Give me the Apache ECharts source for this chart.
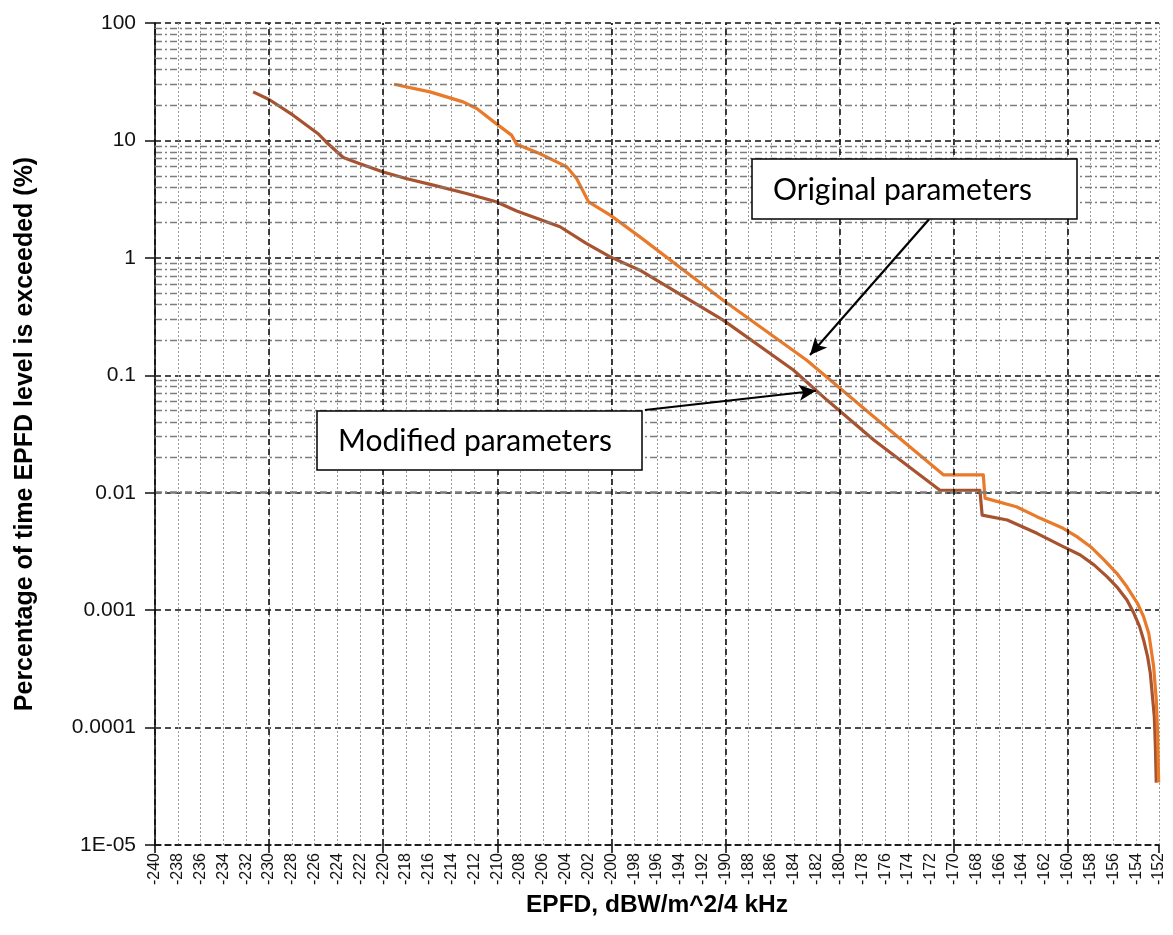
<!DOCTYPE html>
<html><head><meta charset="utf-8">
<script src="https://cdn.jsdelivr.net/npm/echarts@6/dist/echarts.min.js"></script>
<style>html,body{margin:0;padding:0;background:#fff}#c{width:1173px;height:935px}</style>
</head><body><div id="c"></div>
<script>
// ---- data ----
const epfdOriginal = [-219.05, -215.9, -213.0, -211.8, -210.1, -208.75, -208.3, -206.3, -203.9, -203.05, -202.0, -200.1, -197.5, -190.2, -182.9, -177.0, -170.9, -167.4, -167.25, -164.5, -162.7, -160.4, -159.2, -158.0, -156.86, -155.7, -154.81, -153.9, -153.35, -152.9, -152.68, -152.47, -152.24, -152.12, -152.03];
const pctOriginal  = [30.1, 25.9, 21.3, 18.7, 13.9, 11.1, 9.27, 7.74, 5.95, 4.74, 3.0, 2.31, 1.51, 0.436, 0.135, 0.0444, 0.0142, 0.0142, 0.0090, 0.0076, 0.00625, 0.00498, 0.00423, 0.00347, 0.00271, 0.00206, 0.00158, 0.00115, 0.00088, 0.000636, 0.000458, 0.00033, 0.000172, 0.0000895, 0.000034];
const epfdModified = [-231.4, -230.0, -227.9, -225.7, -225.0, -223.5, -222.1, -220.0, -218.0, -215.6, -212.7, -210.1, -208.3, -204.5, -202.2, -200.1, -197.5, -190.2, -184.05, -181.1, -177.0, -171.2, -167.7, -167.5, -165.3, -162.7, -160.4, -158.9, -157.7, -156.56, -155.7, -154.81, -154.2, -153.7, -153.35, -153.0, -152.76, -152.41, -152.32, -152.24];
const pctModified  = [25.9, 22.3, 16.4, 11.4, 9.7, 7.15, 6.36, 5.39, 4.74, 4.16, 3.53, 3.0, 2.51, 1.84, 1.33, 1.02, 0.785, 0.295, 0.111, 0.0615, 0.0281, 0.0105, 0.0105, 0.00645, 0.00586, 0.00451, 0.00347, 0.00295, 0.00243, 0.00193, 0.00158, 0.00122, 0.00094, 0.000724, 0.000557, 0.000402, 0.00029, 0.000124, 0.00007, 0.000034];
const seriesNames = ['Original parameters', 'Modified parameters'];
const yTickValues = [1e-5, 1e-4, 1e-3, 1e-2, 1e-1, 1, 10, 100];
const yTickLabels = ['1E-05', '0.0001', '0.001', '0.01', '0.1', '1', '10', '100'];
const yMinorMultipliers = [2, 3, 4, 5, 6, 7, 8, 9];
const xMajorTicks = [-240, -230, -220, -210, -200, -190, -180, -170, -160];
const xTitle = 'EPFD, dBW/m^2/4 kHz';
const yTitle = 'Percentage of time EPFD level is exceeded (%)';
// annotation arrows: [from, to] in data coordinates
const arrowOriginal = [[-172.15, 2.13], [-182.59, 0.1486]];
const arrowModified = [[-197.06, 0.0506], [-182.06, 0.0738]];

const zip = (xs, ys) => xs.map((x, i) => [x, ys[i]]);

const gridLines = [];
yTickValues.slice(0, -1).forEach(d => yMinorMultipliers.forEach(m => {
  gridLines.push({ yAxis: d * m, lineStyle: { color: '#7d7d7d', type: [7, 3, 2, 3], width: 1.3 } });
}));
xMajorTicks.forEach(v => gridLines.push({ xAxis: v, lineStyle: { color: '#111', type: [6, 4], width: 1.6 } }));

const chart = echarts.init(document.getElementById('c'), null, { renderer: 'canvas' });
const font = "'Liberation Sans', Arial, sans-serif";
chart.setOption({
  animation: false,
  backgroundColor: '#fff',
  grid: { left: 155, top: 23, width: 1004, height: 822, containLabel: false },
  xAxis: [{
    type: 'value', min: -240, max: -152, interval: 2,
    name: xTitle, nameLocation: 'middle', nameGap: 47,
    nameTextStyle: { fontFamily: font, fontWeight: 'bold', fontSize: 24.5, color: '#000' },
    axisLine: { show: true, onZero: false, lineStyle: { color: '#111', type: [6, 4], width: 1.6 } },
    axisTick: { show: false },
    axisLabel: { rotate: 90, margin: 8, fontFamily: font, fontSize: 16, color: '#111' },
    splitLine: { show: true, lineStyle: { color: '#9a9a9a', type: [2, 2], width: 1 } }
  }, {
    type: 'value', min: -240, max: -152, interval: 10, position: 'bottom',
    axisLine: { show: false }, axisLabel: { show: false }, splitLine: { show: false },
    axisTick: { show: true, length: 8, lineStyle: { color: '#111', width: 1.6 } }
  }],
  yAxis: {
    type: 'log', logBase: 10, min: 1e-5, max: 100,
    name: yTitle, nameLocation: 'middle', nameGap: 117,
    nameTextStyle: { fontFamily: font, fontWeight: 'bold', fontSize: 25, color: '#000' },
    axisLine: { show: true, lineStyle: { color: '#111', width: 1.6 } },
    axisTick: { show: true, length: 10, lineStyle: { color: '#111', width: 1.5 } },
    axisLabel: { margin: 19, fontFamily: font, fontSize: 21, color: '#111',
      formatter: v => yTickLabels[Math.round(Math.log10(v)) + 5] },
    splitLine: { show: true, lineStyle: { color: '#111', type: [6, 4], width: 1.6 } }
  },
  series: [{
    type: 'line', name: 'grid', data: [], silent: true, z: 1,
    markLine: { silent: true, symbol: ['none', 'none'], label: { show: false }, data: gridLines }
  }, {
    type: 'line', name: seriesNames[1], data: zip(epfdModified, pctModified), z: 3,
    showSymbol: false, lineStyle: { color: '#A8532F', width: 3.2, join: 'round' }
  }, {
    type: 'line', name: seriesNames[0], data: zip(epfdOriginal, pctOriginal), z: 4,
    showSymbol: false, lineStyle: { color: '#E97A2A', width: 3.2, join: 'round' }
  }, {
    type: 'line', name: 'arrows', data: [], silent: true, z: 6,
    markLine: { silent: true, symbol: ['none', 'arrow'], symbolSize: [12, 17], label: { show: false },
      lineStyle: { color: '#000', type: 'solid', width: 2.2 },
      data: [
        [{ coord: arrowOriginal[0] }, { coord: arrowOriginal[1] }],
        [{ coord: arrowModified[0] }, { coord: arrowModified[1] }]
      ] }
  }],
  graphic: [
    { type: 'rect', z: 100, shape: { x: 752, y: 159, width: 325, height: 60 },
      style: { fill: '#fff', stroke: '#000', lineWidth: 1.5 } },
    { type: 'text', z: 101, x: 773, y: 190,
      style: { text: seriesNames[0], fontFamily: 'Lato, sans-serif', fontSize: 30, fill: '#000', verticalAlign: 'middle' } },
    { type: 'rect', z: 100, shape: { x: 317, y: 411, width: 325, height: 59 },
      style: { fill: '#fff', stroke: '#000', lineWidth: 1.5 } },
    { type: 'text', z: 101, x: 338, y: 441,
      style: { text: seriesNames[1], fontFamily: 'Lato, sans-serif', fontSize: 30, fill: '#000', verticalAlign: 'middle' } }
  ]
});
</script></body></html>
